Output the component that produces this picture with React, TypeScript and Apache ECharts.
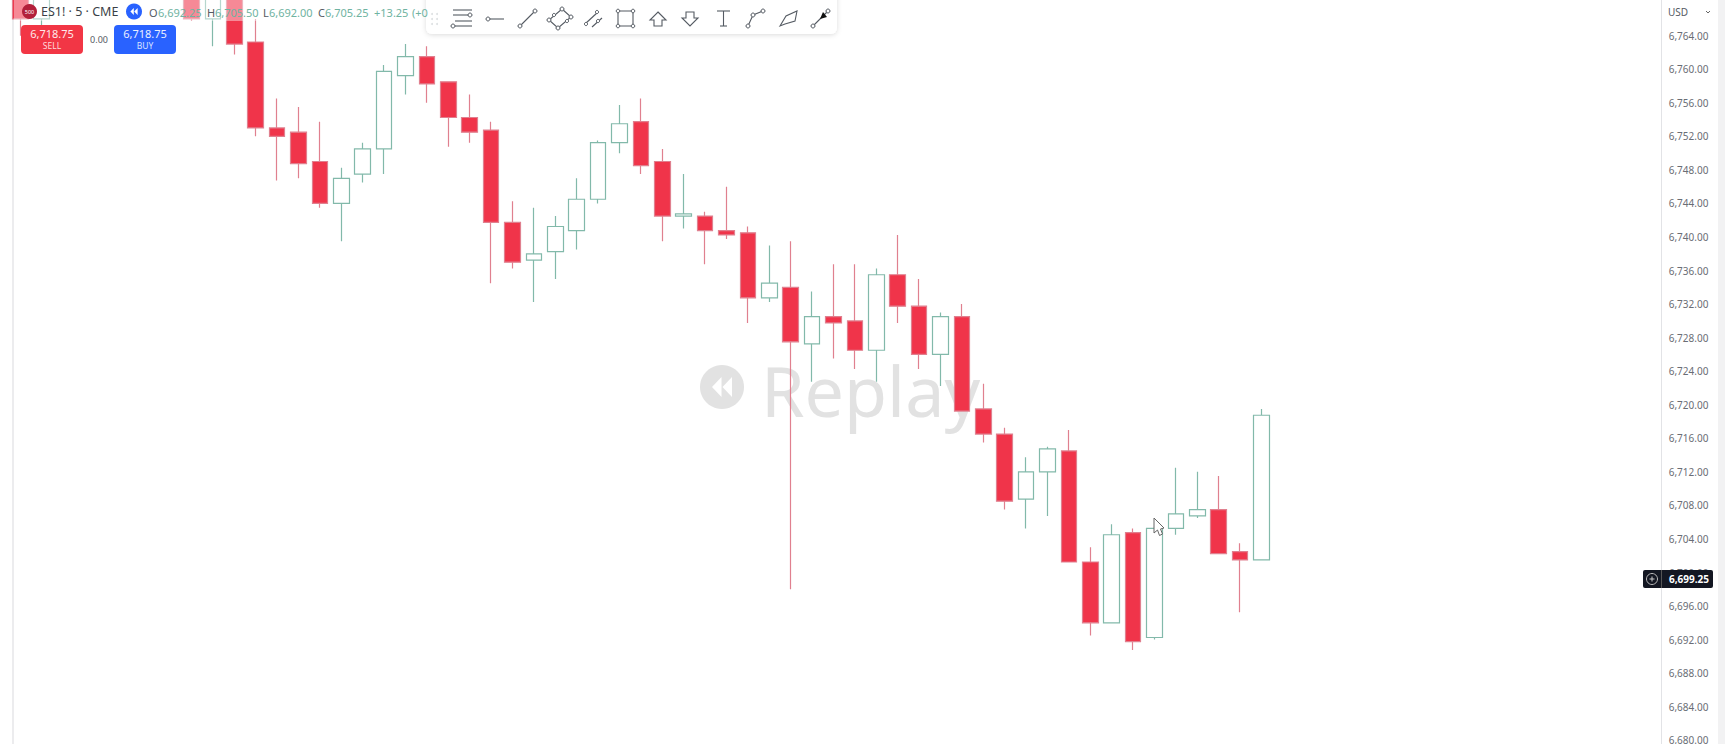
import React, { useEffect, useRef } from "react";
import * as echarts from "echarts";

const opens = [6770, 6766, null, null, null, null, null, null, 6770, 6766, 6770, 6763.25, 6753, 6752.5, 6749, 6744, 6747.5, 6750.5, 6759.25, 6761.5, 6758.5, 6754.25, 6752.75, 6741.75, 6737.25, 6738.25, 6740.75, 6744.5, 6751.25, 6753.75, 6749, 6742.5, 6742.5, 6740.75, 6740.5, 6732.75, 6734, 6727.25, 6730.5, 6730, 6726.5, 6735.5, 6731.75, 6726, 6730.5, 6719.5, 6716.5, 6708.75, 6712, 6714.5, 6701.25, 6694, 6704.75, 6692.25, 6705.25, 6706.75, 6707.5, 6702.5, 6701.5];
const closes = [6766, 6769.5, null, null, null, null, null, null, 6766, 6770, 6763, 6753, 6752, 6748.75, 6744, 6747, 6750.5, 6759.75, 6761.5, 6758.25, 6754.25, 6752.5, 6741.75, 6737, 6738, 6741.25, 6744.5, 6751.25, 6753.5, 6748.5, 6742.5, 6742.75, 6740.75, 6740.25, 6732.75, 6734.5, 6727.5, 6730.5, 6729.75, 6726.5, 6735.5, 6731.75, 6726, 6730.5, 6719.25, 6716.5, 6708.5, 6712, 6714.75, 6701.25, 6694, 6704.5, 6691.75, 6705.25, 6707, 6707.5, 6702.25, 6701.5, 6718.75];
const lows = [6764, 6765.25, null, null, null, null, null, null, 6765.75, 6762.75, 6761.75, 6752, 6746.75, 6747, 6743.5, 6739.5, 6746.5, 6747.5, 6757, 6756, 6750.75, 6751.25, 6734.5, 6736.25, 6732.25, 6735, 6738.5, 6744, 6750, 6747.5, 6739.5, 6741, 6736.75, 6739.75, 6729.75, 6732.25, 6698, 6722.75, 6725.5, 6724.25, 6722.75, 6729.75, 6724.25, 6722.25, 6719.25, 6715.5, 6707.5, 6705.25, 6706.75, 6701.25, 6692.5, 6694, 6690.75, 6692, 6704.5, 6706.5, 6702.25, 6695.25, 6701.5];
const highs = [6770.5, 6770, null, null, null, null, null, null, 6770.5, 6770.5, 6770.5, 6766, 6756.5, 6755.5, 6753.75, 6748.25, 6751.25, 6760.5, 6763, 6762.75, 6758.5, 6757, 6753.75, 6744.25, 6743.5, 6742.5, 6747, 6751.5, 6755.75, 6756.5, 6750.5, 6747.5, 6743, 6746, 6741.25, 6739, 6739.5, 6733.5, 6736.75, 6736.75, 6736.25, 6740.25, 6735, 6731, 6732, 6722.5, 6717.25, 6713.75, 6715, 6717, 6703, 6705.75, 6705.25, 6705.5, 6712.5, 6712, 6711.5, 6703.5, 6719.5];
const categories = Array.from({ length: 77 }, (_, i) => String(i + 1));
const axisMin = 6676;
const axisMax = 6772;
const axisStep = 4;
const lastPrice = "6,699.25";
const orderPrice = "6,718.75";

const ICON = "#555b63";
const FONT = '"Noto Sans", sans-serif';
const Z = 100;

const ln = (x1: number, y1: number, x2: number, y2: number, stroke = ICON, lineWidth = 1.1) => ({
  type: "line", z: Z + 1, silent: true, shape: { x1, y1, x2, y2 }, style: { stroke, lineWidth },
});
const dot = (cx: number, cy: number, r = 2) => ({
  type: "circle", z: Z + 2, silent: true, shape: { cx, cy, r }, style: { fill: "#fff", stroke: ICON, lineWidth: 1 },
});
const poly = (points: number[][], style: any, z = Z + 1) => ({
  type: "polygon", z, silent: true, shape: { points }, style,
});
const txt = (text: string, x: number, y: number, fontSize: number, fill: string, extra: any = {}, z = Z + 2) => ({
  type: "text", z, silent: true, x, y,
  style: { text, fontSize, fill, fontFamily: FONT, textAlign: "left", textVerticalAlign: "middle", ...extra },
});
const rewind = (cx: number, cy: number, s: number, fill: string, z: number) => [
  poly([[cx - 0.05 * s, cy - s], [cx - 0.05 * s, cy + s], [cx - s, cy]], { fill }, z),
  poly([[cx + s, cy - s], [cx + s, cy + s], [cx + 0.05 * s, cy]], { fill }, z),
];

const toolbar = () => {
  const els: any[] = [
    { type: "rect", z: Z, silent: true, shape: { x: 426, y: -8, width: 411, height: 42, r: 6 },
      style: { fill: "#fff", shadowBlur: 5, shadowColor: "rgba(0,0,0,0.14)", shadowOffsetY: 1 } },
  ];
  for (const x of [432, 437]) for (const y of [14, 19, 24]) {
    els.push({ type: "circle", z: Z + 1, silent: true, shape: { cx: x, cy: y, r: 1 }, style: { fill: "#dde0e2" } });
  }
  els.push(ln(453, 10, 472, 10), ln(453, 15, 468, 15), ln(455, 21, 472, 21), ln(455, 26, 472, 26), dot(470, 15), dot(453, 26));
  els.push(ln(488, 19, 504, 19), dot(488, 19));
  els.push(ln(520, 26, 535, 11), dot(520, 26), dot(535, 11));
  els.push(poly([[562, 9], [571, 17], [558, 28], [549, 20]], { fill: "none", stroke: ICON, lineWidth: 1.1 }), dot(562, 9), dot(571, 17), dot(558, 28), dot(549, 20), dot(567, 21, 1.6), dot(554, 15, 1.6));
  els.push(ln(585, 24, 598, 12), ln(592, 27, 602, 18), dot(586, 24, 1.6), dot(597, 12, 1.6), dot(598, 21, 1.6));
  els.push(poly([[618, 11], [633, 11], [633, 26], [618, 26]], { fill: "none", stroke: ICON, lineWidth: 1.1 }), dot(618, 11, 1.8), dot(633, 11, 1.8), dot(633, 26, 1.8), dot(618, 26, 1.8));
  els.push(poly([[658, 12], [666, 20], [662, 20], [662, 26], [654, 26], [654, 20], [650, 20]], { fill: "none", stroke: ICON, lineWidth: 1.1 }));
  els.push(poly([[686, 12], [694, 12], [694, 18], [698, 18], [690, 26], [682, 18], [686, 18]], { fill: "none", stroke: ICON, lineWidth: 1.1 }));
  els.push(ln(717, 11, 730, 11), ln(723.5, 11, 723.5, 26), ln(720, 26, 727, 26));
  els.push({ type: "polyline", z: Z + 1, silent: true, shape: { points: [[748, 26], [753, 15], [763, 11]] }, style: { fill: "none", stroke: ICON, lineWidth: 1.1 } }, dot(748, 26), dot(753, 15), dot(763, 11));
  els.push(poly([[780, 26], [786, 16], [797, 11], [795, 21], [785, 24]], { fill: "none", stroke: ICON, lineWidth: 1.1 }));
  els.push(ln(813, 26, 828, 11), dot(813, 26), dot(828, 11), poly([[823, 12], [827, 17], [820, 19]], { fill: "#111" }, Z + 3));
  return els;
};

const legend = () => [
  { type: "rect", z: Z, silent: true, shape: { x: 14, y: 0, width: 411, height: 21 }, style: { fill: "rgba(255,255,255,0.42)" } },
  { type: "circle", z: Z + 1, silent: true, shape: { cx: 29.5, cy: 11.5, r: 7.5 }, style: { fill: "#b2203a" } },
  txt("500", 29.5, 11.5, 5.5, "#fff", { textAlign: "center" }),
  txt("ES1! · 5 · CME", 41, 11.5, 12.5, "#3a3f47"),
  { type: "circle", z: Z + 1, silent: true, shape: { cx: 134, cy: 11.5, r: 8 }, style: { fill: "#2962ff" } },
  ...rewind(134, 11.5, 3.6, "#fff", Z + 2),
  txt("O", 149, 12, 11, "#555b63"), txt("6,692.25", 158, 12, 11, "#6fb3a1"),
  txt("H", 207, 12, 11, "#555b63"), txt("6,705.50", 215, 12, 11, "#6fb3a1"),
  txt("L", 263, 12, 11, "#555b63"), txt("6,692.00", 269, 12, 11, "#6fb3a1"),
  txt("C", 318, 12, 11, "#555b63"), txt("6,705.25", 325, 12, 11, "#6fb3a1"),
  txt("+13.25", 374, 12, 11, "#6fb3a1"), txt("(+0", 412, 12, 11, "#6fb3a1"),
  { type: "rect", z: Z + 1, silent: true, shape: { x: 21, y: 25, width: 62, height: 29, r: 4 }, style: { fill: "#f23645" } },
  txt(orderPrice, 52, 33, 11, "#ffe9ea", { textAlign: "center" }),
  txt("SELL", 52, 45.5, 8.5, "#ffd9dc", { textAlign: "center" }),
  txt("0.00", 99, 39, 9, "#555b63", { textAlign: "center" }),
  { type: "rect", z: Z + 1, silent: true, shape: { x: 114, y: 25, width: 62, height: 29, r: 4 }, style: { fill: "#2962ff" } },
  txt(orderPrice, 145, 33, 11, "#e9efff", { textAlign: "center" }),
  txt("BUY", 145, 45.5, 8.5, "#d9e3ff", { textAlign: "center" }),
];

const rightSide = () => [
  { type: "rect", z: 0, silent: true, shape: { x: 1718, y: 0, width: 7, height: 744 }, style: { fill: "#f2f2f3" } },
  { type: "rect", z: 0, silent: true, shape: { x: 12, y: 0, width: 2, height: 744 }, style: { fill: "#ececee" } },
  txt("USD", 1668, 11.5, 10, "#555b63"),
  { type: "polyline", z: Z + 1, silent: true, shape: { points: [[1706, 11], [1708, 13], [1710, 11]] }, style: { fill: "none", stroke: "#666", lineWidth: 1 } },
  { type: "rect", z: Z + 1, silent: true, shape: { x: 1643, y: 570, width: 70, height: 18, r: 2 }, style: { fill: "#131722" } },
  ln(1661.5, 570, 1661.5, 588, "#555", 1),
  { type: "circle", z: Z + 2, silent: true, shape: { cx: 1652, cy: 579, r: 5.5 }, style: { fill: "none", stroke: "#bbb", lineWidth: 1 } },
  ln(1649.5, 579, 1654.5, 579, "#ccc", 1), ln(1652, 576.5, 1652, 581.5, "#ccc", 1),
  txt(lastPrice, 1669, 579, 10, "#fff", { fontWeight: "bold" }),
];

const watermark = () => [
  { type: "circle", z: 0, silent: true, shape: { cx: 722, cy: 387, r: 22 }, style: { fill: "#e2e2e2" } },
  ...rewind(722, 387, 10, "#fff", 1),
  txt("Replay", 761, 390, 70, "#e2e2e2", { fontWeight: 400 }, 0),
];

const cursor = () => [
  poly([[1154, 518], [1164, 528], [1160.5, 529], [1162.5, 534], [1159.5, 535.5], [1157.5, 530], [1154, 533]], { fill: "#fff", stroke: "#666", lineWidth: 1 }, Z + 3),
];

export default function App() {
  const ref = useRef<HTMLDivElement>(null);
  useEffect(() => {
    const chart = echarts.init(ref.current!, null, { renderer: "svg" });
    const candles = opens.map((o, i) =>
      o === null ? ["-", "-", "-", "-"] : [o, closes[i], lows[i], highs[i]]
    );
    chart.setOption({
      animation: false,
      backgroundColor: "#ffffff",
      grid: { left: 9.6, top: -31.4, width: 1647.8, height: 805.2, containLabel: false, outerBoundsMode: "none" },
      xAxis: { type: "category", data: categories, show: false, boundaryGap: true },
      yAxis: {
        type: "value", position: "right", offset: 4.3,
        min: axisMin, max: axisMax, interval: axisStep, scale: true,
        splitLine: { show: false },
        axisTick: { show: false },
        axisLine: { show: true, lineStyle: { color: "#e2e3e6", width: 1 } },
        axisLabel: {
          show: true, margin: 7, fontSize: 10, color: "#6a6d75", fontFamily: FONT,
          formatter: (v: number) =>
            v > 6764 || v < 6680 ? "" : v.toLocaleString("en-US", { minimumFractionDigits: 2, maximumFractionDigits: 2 }),
        },
      },
      series: [{
        type: "candlestick",
        data: candles,
        barWidth: 16,
        z: 2,
        itemStyle: {
          color: "#ffffff",
          color0: "#f0344a",
          borderColor: "#82b9aa",
          borderColor0: "#e0808f",
          borderWidth: 1.2,
        },
      }],
      graphic: { elements: [...watermark(), ...rightSide(), ...legend(), ...toolbar(), ...cursor()] },
    });
    return () => chart.dispose();
  }, []);
  return <div ref={ref} style={{ position: "fixed", left: 0, top: 0, width: 1725, height: 744 }} />;
}
